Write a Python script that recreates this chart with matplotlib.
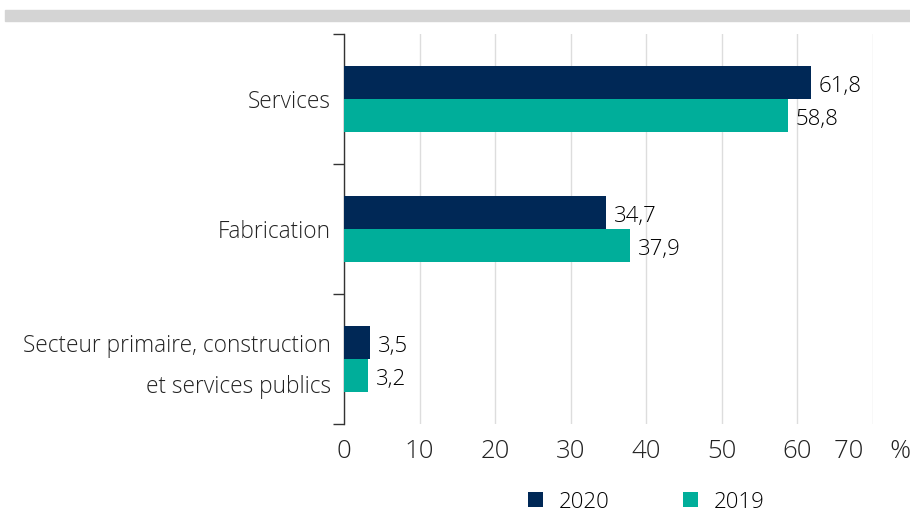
import matplotlib
matplotlib.use("Agg")
import matplotlib.pyplot as plt
from matplotlib.patches import Rectangle
import numpy as np

plt.rcParams['font.family'] = ['Open Sans', 'DejaVu Sans']
plt.rcParams['font.weight'] = 'light'

categories = ["Services", "Fabrication",
              "Secteur primaire, construction\net services publics"]
values_2020 = [61.8, 34.7, 3.5]
values_2019 = [58.8, 37.9, 3.2]
series_names = ["2020", "2019"]
x_ticks = [0, 10, 20, 30, 40, 50, 60, 70]
x_tick_labels = ["0", "10", "20", "30", "40", "50", "60", "70    %"]

c_2020 = "#002856"
c_2019 = "#00ae9a"
text_c = "#222222"

fig = plt.figure(figsize=(9.1, 5.12), dpi=100)
# grey band on top
fig.patches.append(Rectangle((5 / 910, 1 - 21 / 512), 905 / 910, 11 / 512,
                             transform=fig.transFigure, color="#d4d4d4",
                             zorder=0))

ax = fig.add_axes([344 / 910, 1 - 424 / 512, (873 - 344) / 910, (424 - 34) / 512])

y = np.arange(len(categories))
h = 0.255
b1 = ax.barh(y - h / 2, values_2020, height=h, color=c_2020, label=series_names[0], zorder=3)
b2 = ax.barh(y + h / 2, values_2019, height=h, color=c_2019, label=series_names[1], zorder=3)

for bars, vals in ((b1, values_2020), (b2, values_2019)):
    for bar, v in zip(bars, vals):
        ax.text(v + 1.0, bar.get_y() + bar.get_height() / 2 + 0.03,
                f"{v:.1f}".replace(".", ","), va="center", ha="left",
                fontsize=16, color="black")

# category labels, drawn as text so the two-line one can be placed freely
for i, cat in enumerate(categories):
    multi = "\n" in cat
    ax.text(-13 / 529, i + (0.055 if multi else 0), cat,
            transform=ax.get_yaxis_transform(), ha="right",
            va="center" if multi else "center_baseline",
            fontsize=16.3, color=text_c, linespacing=1.96)

ax.set_xlim(0, 70)
ax.set_ylim(2.5, -0.5)
ax.set_xticks(x_ticks)
ax.set_xticklabels(x_tick_labels, fontsize=18.5, color=text_c)
ax.set_yticks([-0.5, 0.5, 1.5, 2.5])
ax.set_yticklabels([])
ax.tick_params(axis="y", length=8, width=1, color="#333333")
ax.tick_params(axis="x", length=0, pad=11)
ax.grid(axis="x", color="#dddddd", linewidth=1, zorder=0)
for s in ("top", "right", "bottom"):
    ax.spines[s].set_visible(False)
ax.spines["left"].set_color("#333333")
ax.spines["left"].set_linewidth(1)

fig.legend(handles=[b1, b2], labels=series_names, loc="center",
           bbox_to_anchor=(646 / 910, 1 - 502 / 512), ncol=2, frameon=False,
           fontsize=16, handlelength=0.68, handleheight=0.68, handletextpad=0.7,
           columnspacing=3.3)

fig.savefig("out.png", dpi=100)
